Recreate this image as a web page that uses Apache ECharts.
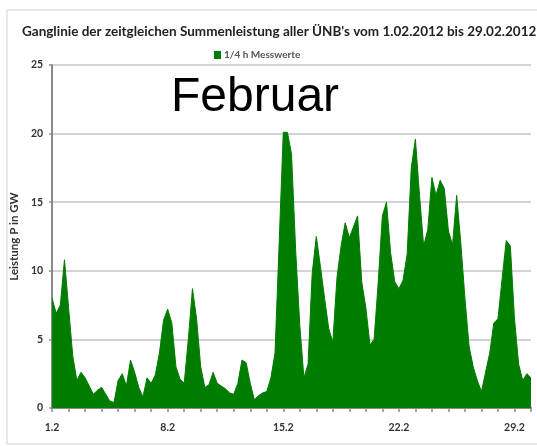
<!DOCTYPE html>
<html>
<head>
<meta charset="utf-8">
<script src="https://cdn.jsdelivr.net/npm/echarts@6/dist/echarts.min.js"></script>
<style>html,body{margin:0;padding:0;background:#fff}#c{width:537px;height:446px}</style>
</head>
<body>
<div id="c"></div>
<script>
// 6-hourly readings (GW), starting 1.02.2012 00:00, step 0.25 day
var values = [
  8.0, 6.9, 7.5, 10.8, 7.3, 3.8, 2.0, 2.6,
  2.2, 1.6, 1.0, 1.3, 1.5, 1.0, 0.5, 0.4,
  2.0, 2.5, 1.6, 3.5, 2.6, 1.5, 0.8, 2.2,
  1.8, 2.4, 4.0, 6.4, 7.2, 6.2, 3.0, 2.1,
  1.8, 5.0, 8.7, 6.5, 3.0, 1.5, 1.7, 2.6,
  1.8, 1.6, 1.4, 1.1, 1.0, 1.8, 3.5, 3.3,
  1.8, 0.6, 0.9, 1.1, 1.2, 2.2, 4.0, 12.0,
  20.1, 20.1, 18.5, 11.5, 6.0, 2.2, 3.2, 9.8,
  12.5, 10.3, 8.0, 5.8, 4.8, 9.5, 11.8, 13.5,
  12.4, 13.2, 14.0, 9.2, 7.3, 4.6, 5.0, 9.2,
  14.0, 15.0, 11.3, 9.2, 8.7, 9.3, 11.2, 17.5,
  19.6, 15.5, 11.8, 13.0, 16.8, 15.5, 16.6, 16.0,
  12.9, 11.9, 15.5, 12.0, 8.0, 4.5, 3.0, 2.0,
  1.2, 2.6, 4.0, 6.2, 6.5, 9.4, 12.2, 11.8,
  6.5, 3.2, 2.0, 2.5, 2.2
];
var pointsPerDay = 4;
var labelEveryDays = 7;
var monthSuffix = '.2';
var yTicks = [0, 5, 10, 15, 20, 25];

var categories = values.map(function (v, i) {
  return (i % pointsPerDay === 0) ? (i / pointsPerDay + 1) + monthSuffix : '';
});

var chart = echarts.init(document.getElementById('c'), null, {renderer: 'canvas'});
chart.setOption({
  animation: false,
  backgroundColor: '#fff',
  title: {
    text: "Ganglinie der zeitgleichen Summenleistung aller ÜNB's vom 1.02.2012 bis 29.02.2012",
    left: 17, top: 20,
    textStyle: {fontFamily: 'Lato', fontWeight: 'bold', fontSize: 13.5, color: '#222'}
  },
  legend: {
    data: ['1/4 h Messwerte'],
    left: 209, top: 45,
    itemWidth: 7, itemHeight: 8, itemGap: 4,
    icon: 'rect',
    textStyle: {fontFamily: 'Lato', fontSize: 10, fontWeight: 'bold', color: '#555', padding: [0, 0, 0, -2]}
  },
  graphic: [
    {type: 'rect', shape: {x: 7, y: 10, width: 560, height: 434}, style: {fill: 'none', stroke: '#d0d0d0', lineWidth: 1}, z: -1},
    {type: 'text', left: 171, top: 74, style: {text: 'Februar', font: '48px "Liberation Sans", Arial, sans-serif', fill: '#000'}}
  ],
  grid: {left: 51, right: 6, top: 65, bottom: 38},
  xAxis: {
    type: 'category',
    data: categories,
    boundaryGap: false,
    axisLine: {lineStyle: {color: '#8a8a8a', width: 2}},
    axisTick: {
      show: true, length: 4, lineStyle: {color: '#8a8a8a', width: 1.5},
      interval: function (i) { return i % pointsPerDay === 0; }
    },
    axisLabel: {
      interval: function (i) { return i % (pointsPerDay * labelEveryDays) === 0; },
      margin: 14, fontFamily: 'Lato', fontWeight: 'bold', fontSize: 10.5, color: '#333'
    },
    splitLine: {show: false}
  },
  yAxis: {
    type: 'value',
    min: yTicks[0], max: yTicks[yTicks.length - 1], interval: 5,
    name: 'Leistung P in GW',
    nameLocation: 'middle', nameGap: 27,
    nameTextStyle: {fontFamily: 'Lato', fontWeight: 'bold', fontSize: 11.5, color: '#333'},
    axisLine: {show: true, lineStyle: {color: '#8a8a8a', width: 2}},
    axisTick: {show: true, length: 3, lineStyle: {color: '#8a8a8a', width: 1.5}},
    axisLabel: {margin: 9, fontFamily: 'Lato', fontWeight: 'bold', fontSize: 10.5, color: '#333'},
    splitLine: {lineStyle: {color: '#c4c4c4', width: 1.5}}
  },
  series: [{
    name: '1/4 h Messwerte',
    type: 'line',
    data: values,
    symbol: 'none',
    itemStyle: {color: '#007d00'},
    lineStyle: {color: '#007d00', width: 1},
    areaStyle: {color: '#007d00', opacity: 1}
  }]
});
</script>
</body>
</html>
